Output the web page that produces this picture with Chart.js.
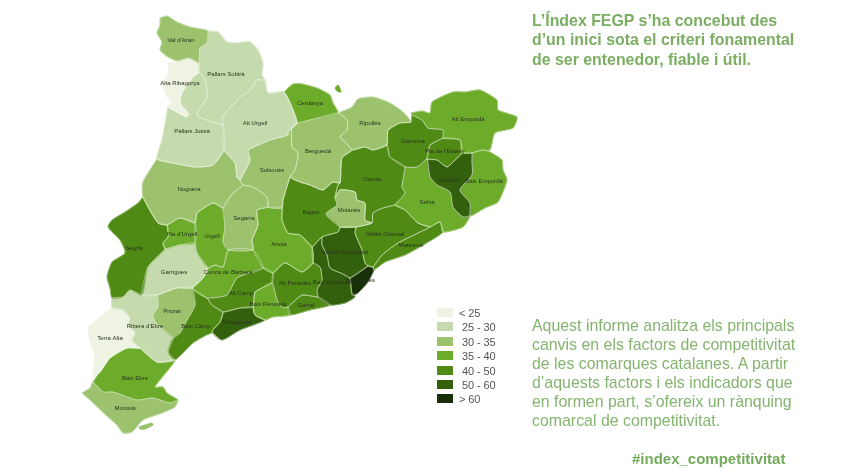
<!DOCTYPE html>
<html lang="ca">
<head>
<meta charset="utf-8">
<title>Índex FEGP</title>
<script src="https://cdn.jsdelivr.net/npm/chart.js@4"></script>
<style>
  html, body { margin:0; padding:0; background:#fff; }
  #page { position:relative; width:844px; height:475px; overflow:hidden; font-family:"Liberation Sans", Arial, sans-serif; }
  #mapa { position:absolute; left:0; top:0; filter:blur(0.6px); }
  .txt { position:absolute; left:532px; color:#84b46f; white-space:pre; filter:blur(0.3px); }
  #intro { top:11px; font-size:15.9px; font-weight:bold; line-height:19.3px; color:#7bae62; }
  #informe { top:316px; font-size:15.9px; line-height:19.1px; }
  #hashtag { left:632px; top:449px; font-size:15px; font-weight:bold; line-height:19px; color:#74aa5c; }
  .rang { position:absolute; left:437px; height:14px; font-size:11px; line-height:11px; color:#555; filter:blur(0.3px); }
  .rang i { position:absolute; left:0; top:0; width:16px; height:9px; }
  .rang span { position:absolute; white-space:pre; top:0; letter-spacing:-0.1px; }
</style>
</head>
<body>
<div id="page">
  <canvas id="mapa" width="844" height="475"></canvas>
  <div class="txt" id="intro">L’Índex FEGP s’ha concebut des
d’un inici sota el criteri fonamental
de ser entenedor, fiable i útil.</div>
  <div class="txt" id="informe">Aquest informe analitza els principals
canvis en els factors de competitivitat
de les comarques catalanes. A partir
d’aquests factors i els indicadors que
en formen part, s’ofereix un rànquing
comarcal de competitivitat.</div>
  <div class="txt" id="hashtag">#index_competitivitat</div>
</div>
<script>
/* ─── Comarques: rang de l'índex i contorn de cada una ─────────── */

const RANGS = ['< 25', '25 - 30', '30 - 35', '35 - 40', '40 - 50', '50 - 60', '> 60'];
const RANG_COLORS = ['#eef3e3', '#c6dbad', '#9cc26e', '#6dac2b', '#4f8a14', '#33600c', '#17300a'];

const comarques = [
  "Val d'Aran", 'Pallars Sobirà', 'Alta Ribagorça', 'Pallars Jussà', 'Alt Urgell', 'Cerdanya', 'Ripollès',
  'Berguedà', 'Solsonès', 'Noguera', 'Urgell', "Pla d'Urgell", 'Segrià', 'Garrigues', 'Segarra', 'Anoia',
  'Bages', 'Moianès', 'Osona', 'Garrotxa', 'Alt Empordà', "Pla de l'Estany", 'Gironès', 'Baix Empordà',
  'Selva', 'Maresme', 'Vallès Oriental', 'Vallès Occidental', 'Baix Llobregat', 'Barcelonès', 'Alt Penedès',
  'Garraf', 'Baix Penedès', 'Alt Camp', 'Conca de Barberà', 'Baix Camp', 'Tarragonès', 'Priorat',
  "Ribera d'Ebre", 'Terra Alta', 'Baix Ebre', 'Montsià'
];

// index into RANGS, same order as comarques
const rangs = [2,1,0,1,1,3,2, 2,2,2,3,3,4,1,2,3, 4,2,4,4,3,4,5,3, 3,4,4,5,5,6,4, 4,3,4,3,4,5,2, 1,0,3,2];

// map coordinates
const contorns = [
  [[160,18],[167,16],[177,22],[190,27],[208,31],[207,43],[200,48],[199,63],[193,60],[188,58],[178,61],[168,57],[160,50],[162,42],[157,33],[160,25]],
  [[208,31],[218,32],[227,42],[235,43],[250,42],[258,50],[263,63],[262,75],[265,80],[257,80],[250,90],[240,97],[228,110],[222,117],[223,125],[212,122],[197,115],[207,97],[205,80],[199,72],[199,63],[200,48],[207,43]],
  [[168,63],[178,61],[188,58],[193,60],[199,63],[199,72],[193,77],[182,93],[180,103],[188,113],[187,117],[177,112],[168,107],[172,102],[167,97],[163,83],[169,73]],
  [[193,77],[199,72],[205,80],[207,97],[197,115],[212,122],[223,125],[224,150],[213,165],[195,167],[173,163],[157,159],[162,140],[167,113],[168,107],[177,112],[187,117],[188,113],[180,103],[182,93]],
  [[265,80],[268,93],[284,92],[293,110],[297,123],[288,132],[288,135],[270,140],[248,150],[250,160],[247,167],[240,180],[237,177],[235,163],[224,150],[223,125],[222,117],[228,110],[240,97],[250,90],[257,80]],
  [[284,92],[293,84],[302,84],[317,88],[330,95],[333,103],[338,113],[310,120],[297,123],[293,110]],
  [[338,113],[352,107],[358,99],[373,97],[390,103],[403,112],[411,122],[400,123],[388,130],[387,145],[373,150],[365,147],[352,150],[345,142],[340,137],[347,130],[347,120]],
  [[297,123],[310,120],[338,113],[347,120],[347,130],[340,137],[345,142],[352,150],[342,158],[340,183],[333,182],[323,190],[310,185],[300,182],[290,177],[295,170],[298,153],[292,147],[292,127]],
  [[248,150],[270,140],[288,135],[288,132],[297,123],[292,127],[292,147],[298,153],[295,170],[290,177],[283,200],[282,208],[268,207],[267,197],[253,187],[243,185],[240,180],[247,167],[250,160]],
  [[157,159],[173,163],[195,167],[213,165],[224,150],[235,163],[237,177],[240,180],[243,185],[233,193],[223,208],[213,203],[197,213],[195,223],[180,218],[167,225],[158,223],[143,197],[143,182]],
  [[197,213],[213,203],[223,208],[225,227],[223,242],[228,250],[223,267],[215,265],[208,268],[197,253],[195,243],[195,223]],
  [[167,225],[180,218],[195,223],[195,243],[180,245],[165,249],[163,243],[168,237]],
  [[143,197],[158,223],[167,225],[168,237],[163,243],[165,249],[148,267],[142,295],[130,290],[123,297],[112,298],[110,288],[107,277],[112,262],[125,253],[120,240],[108,227],[112,220],[125,212],[138,203]],
  [[165,249],[180,245],[195,243],[197,253],[208,268],[203,278],[192,288],[177,288],[157,295],[142,295],[148,267]],
  [[243,185],[253,187],[267,197],[268,207],[257,210],[258,225],[252,240],[253,250],[228,250],[223,242],[225,227],[223,208],[233,193]],
  [[268,207],[257,210],[258,225],[252,240],[253,250],[263,268],[273,273],[285,263],[302,272],[313,263],[312,247],[300,235],[288,233],[282,220],[282,208]],
  [[290,177],[300,182],[310,185],[323,190],[333,182],[340,183],[338,185],[335,198],[337,205],[326,214],[340,227],[338,232],[322,237],[312,247],[300,235],[288,233],[282,220],[282,208],[283,200]],
  [[335,198],[340,190],[355,192],[357,200],[365,203],[365,220],[372,223],[356,227],[340,227],[326,214],[337,205]],
  [[340,183],[342,158],[352,150],[365,147],[373,150],[387,145],[390,157],[405,167],[402,187],[405,193],[395,205],[383,208],[373,213],[372,223],[365,220],[365,203],[357,200],[355,192],[340,190],[335,198],[338,185]],
  [[388,130],[400,123],[411,122],[412,115],[422,120],[428,128],[443,130],[443,138],[430,145],[427,159],[417,167],[405,167],[390,157],[387,145]],
  [[411,113],[422,111],[430,113],[432,102],[453,92],[465,92],[480,90],[497,100],[498,110],[517,117],[513,128],[495,133],[490,150],[482,150],[472,153],[462,153],[460,140],[443,138],[443,130],[428,128],[422,120],[412,115]],
  [[430,145],[443,138],[460,140],[462,153],[453,162],[447,167],[437,160],[427,159]],
  [[427,159],[437,160],[447,167],[453,162],[462,153],[472,153],[472,160],[472,175],[460,190],[470,203],[470,216],[463,217],[453,207],[450,192],[437,185],[430,177]],
  [[472,153],[482,150],[490,152],[502,160],[503,170],[507,180],[498,202],[485,208],[470,216],[470,203],[460,190],[472,175],[472,160]],
  [[405,167],[417,167],[427,159],[430,177],[437,185],[450,192],[453,207],[463,217],[470,216],[463,227],[443,232],[440,222],[430,227],[418,223],[405,210],[395,205],[405,193],[402,187]],
  [[373,267],[382,255],[398,243],[418,233],[430,227],[440,222],[443,232],[425,244],[405,255],[385,262],[374,270]],
  [[356,227],[372,223],[373,213],[383,208],[395,205],[405,210],[418,223],[430,227],[418,233],[398,243],[382,255],[373,267],[368,266],[365,263],[362,250],[355,233]],
  [[340,227],[356,227],[355,233],[362,250],[365,263],[368,266],[350,278],[343,274],[330,268],[327,255],[322,245],[322,237],[338,232]],
  [[312,247],[322,237],[322,245],[327,255],[330,268],[343,274],[350,278],[352,293],[355,297],[345,303],[330,305],[318,297],[317,290],[322,280],[320,267],[313,263]],
  [[350,278],[368,266],[373,267],[374,270],[368,282],[358,293],[352,295]],
  [[272,283],[273,273],[285,263],[302,272],[313,263],[320,267],[322,280],[317,290],[318,297],[302,295],[288,307],[283,308],[277,300]],
  [[302,295],[318,297],[330,305],[310,310],[290,315],[288,307]],
  [[255,292],[272,283],[277,300],[283,308],[288,307],[290,315],[273,317],[265,320],[255,315],[253,307]],
  [[207,298],[227,295],[237,278],[263,268],[273,273],[272,283],[255,292],[253,307],[240,308],[223,312],[212,305]],
  [[215,265],[223,267],[228,250],[253,250],[263,268],[237,278],[227,295],[207,298],[192,288],[203,278],[208,268]],
  [[192,288],[207,298],[212,305],[223,312],[220,322],[212,332],[220,340],[212,333],[193,343],[175,360],[168,352],[173,338],[180,333],[186,322],[195,305]],
  [[223,312],[240,308],[253,307],[255,315],[265,320],[240,330],[222,340],[212,332],[220,322]],
  [[157,295],[177,288],[192,288],[195,305],[186,322],[180,333],[173,338],[155,322],[153,315],[158,307]],
  [[112,308],[112,298],[123,297],[130,290],[142,295],[157,295],[158,307],[153,315],[155,322],[173,338],[168,352],[175,360],[157,362],[140,348],[132,340],[135,333],[128,325],[130,318],[123,310]],
  [[88,327],[97,320],[112,308],[123,310],[130,318],[128,325],[135,333],[132,340],[140,348],[127,348],[110,358],[100,372],[93,377],[95,357],[90,340]],
  [[93,382],[100,372],[110,358],[127,348],[140,348],[157,362],[175,360],[160,380],[155,387],[163,387],[167,393],[178,400],[170,403],[153,398],[137,400],[113,392],[103,392]],
  [[82,393],[90,388],[93,382],[103,392],[113,392],[137,400],[153,398],[170,403],[178,400],[175,407],[162,413],[143,420],[132,432],[123,433],[117,425],[108,417],[90,400]]
];

// small separate pieces: Llívia and the Ebre delta island
const enclavaments = [
  { rang: 3, punts: [[335,88],[338,85],[341,92],[337,91]] },
  { rang: 2, punts: [[139,427],[152,423],[153,425],[145,429],[140,429]] }
];

const etiquetes = [
  [181,40],[226,74],[180,83],[192,131],[255,123],[310,103],[370,123],
  [318,151],[272,170],[189,189],[212,236],[182,234],[134,248],[174,272],[244,218],[279,244],
  [311,212],[349,210],[372,179],[413,141],[468,119],[445,151],[449,180],[484,181],
  [427,202],[411,245],[385,234],[345,252],[332,282],[360,280],[295,283],
  [306,305],[268,304],[241,293],[228,272],[196,326],[237,322],[172,311],
  [145,326],[110,338],[135,378],[125,408]
];

function ring(punts) {
  const pts = punts.map(p => ({ x: p[0], y: p[1] }));
  pts.push(pts[0]);
  return pts;
}

function fillDataset(punts, rang, label) {
  return {
    label,
    data: ring(punts),
    order: 2,
    fill: 'shape',
    backgroundColor: RANG_COLORS[rang],
    borderColor: RANG_COLORS[rang],
    borderWidth: 1,
    pointRadius: 0,
    tension: 0.2
  };
}

// pale border pass on top of every fill
function borderDataset(punts, label) {
  return {
    label,
    data: ring(punts),
    order: 1,
    fill: false,
    borderColor: 'rgba(240,247,230,0.6)',
    borderWidth: 0.7,
    pointRadius: 0,
    tension: 0.2
  };
}

const datasets = [];
contorns.forEach((c, i) => datasets.push(fillDataset(c, rangs[i], comarques[i])));
enclavaments.forEach(e => datasets.push(fillDataset(e.punts, e.rang, '')));
contorns.forEach((c, i) => datasets.push(borderDataset(c, comarques[i])));

// comarca names on top of the fills
const nomsPlugin = {
  id: 'noms',
  afterDatasetsDraw(chart) {
    const { ctx, scales } = chart;
    ctx.save();
    ctx.font = '6px "Liberation Sans", Arial, sans-serif';
    ctx.textAlign = 'center';
    ctx.textBaseline = 'middle';
    ctx.fillStyle = '#2a3320';
    comarques.forEach((nom, i) => {
      ctx.fillText(nom, scales.x.getPixelForValue(etiquetes[i][0]), scales.y.getPixelForValue(etiquetes[i][1]));
    });
    ctx.restore();
  }
};

new Chart(document.getElementById('mapa').getContext('2d'), {
  type: 'line',
  data: { datasets },
  plugins: [nomsPlugin],
  options: {
    responsive: false,
    animation: false,
    events: [],
    layout: { padding: 0 },
    scales: {
      x: { type: 'linear', display: false, min: 0, max: 844 },
      y: { type: 'linear', display: false, min: 0, max: 475, reverse: true }
    },
    plugins: { legend: { display: false }, tooltip: { enabled: false } }
  }
});

// legend
const page = document.getElementById('page');
RANGS.forEach((r, i) => {
  const row = document.createElement('div');
  row.className = 'rang';
  row.style.top = (308 + i * 14.4) + 'px';
  const tx = r.charAt(0) === '<' || r.charAt(0) === '>' ? 22 : 25;
  row.innerHTML = `<i style="background:${RANG_COLORS[i]}"></i><span style="left:${tx}px">${r.replace('<', '&lt;')}</span>`;
  page.appendChild(row);
});
</script>
</body>
</html>
